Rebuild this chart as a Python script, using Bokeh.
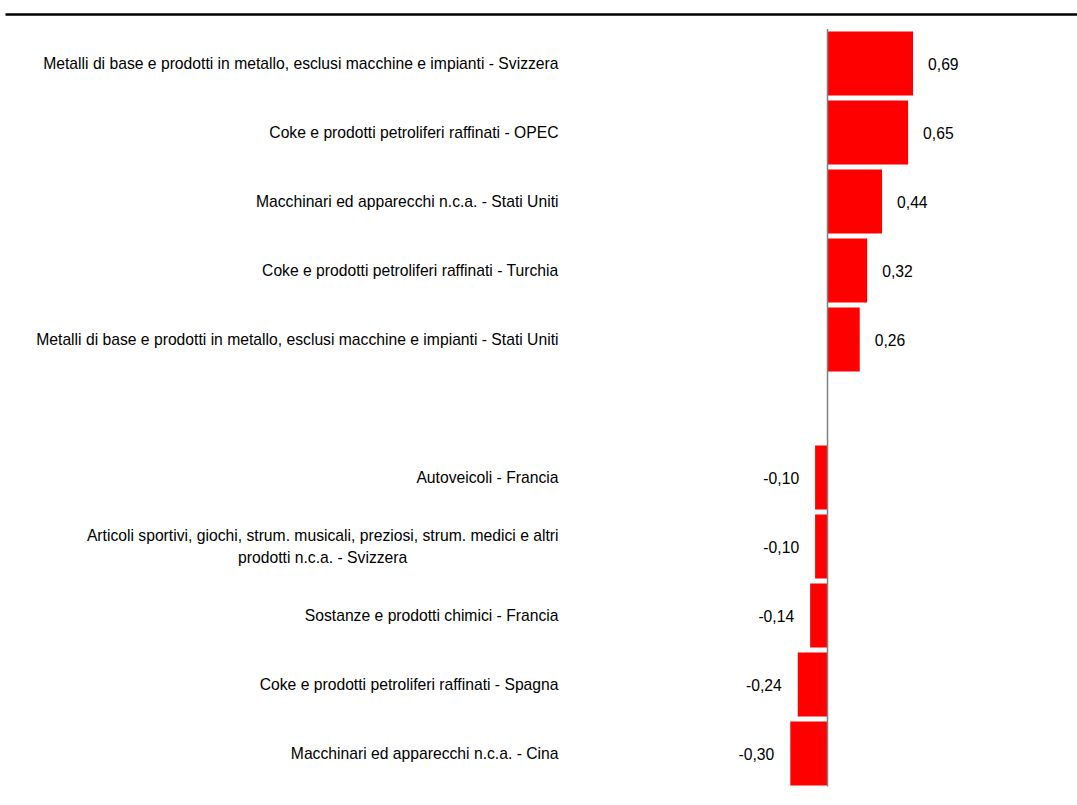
from bokeh.plotting import figure
from bokeh.models import ColumnDataSource, Range1d
from bokeh.embed import file_html
from bokeh.resources import INLINE
from bokeh.core.properties import value

pos_labels = [
    "Metalli di base e prodotti in metallo, esclusi macchine e impianti - Svizzera",
    "Coke e prodotti petroliferi raffinati - OPEC",
    "Macchinari ed apparecchi n.c.a. - Stati Uniti",
    "Coke e prodotti petroliferi raffinati - Turchia",
    "Metalli di base e prodotti in metallo, esclusi macchine e impianti - Stati Uniti",
]
pos_values = [0.69, 0.65, 0.44, 0.32, 0.26]
neg_labels = [
    "Autoveicoli - Francia",
    "Articoli sportivi, giochi, strum. musicali, preziosi, strum. medici e altri\nprodotti n.c.a. - Svizzera",
    "Sostanze e prodotti chimici - Francia",
    "Coke e prodotti petroliferi raffinati - Spagna",
    "Macchinari ed apparecchi n.c.a. - Cina",
]
neg_values = [-0.10, -0.10, -0.14, -0.24, -0.30]

FONT = "Liberation Sans"
FSIZE = "15.7px"

labels = pos_labels + neg_labels
values = pos_values + neg_values
# row positions: positives, then an empty gap row, then negatives
rows = list(range(len(pos_values))) + [len(pos_values) + 1 + i for i in range(len(neg_values))]
nrows = len(pos_values) + 1 + len(neg_values)

def fmt(v):
    return ("%.2f" % v).replace(".", ",")

W, H = 1077, 800
px_per_unit = 124.0
zero_px = 827.0
row_px = 69.0
first_center_px = 63.0

x_start = -zero_px / px_per_unit
x_end = (W - zero_px) / px_per_unit
y_top = -first_center_px / row_px
y_bottom = y_top + H / row_px

p = figure(width=W, height=H, output_backend="svg", toolbar_location=None,
           x_range=Range1d(x_start, x_end), y_range=Range1d(y_bottom, y_top),
           min_border=0, min_border_left=0, min_border_right=0,
           min_border_top=0, min_border_bottom=0)
p.axis.visible = False
p.grid.visible = False
p.outline_line_color = None
p.background_fill_color = "white"
p.border_fill_color = "white"

src = ColumnDataSource(dict(y=rows, v=values, lab=labels))
pos_src = ColumnDataSource(dict(
    y=rows[:len(pos_values)], v=pos_values, vt=[fmt(v) for v in pos_values]))
neg_src = ColumnDataSource(dict(
    y=rows[len(pos_values):], v=neg_values, vt=[fmt(v) for v in neg_values]))

p.hbar(y="y", left=0, right="v", height=0.93, source=src,
       fill_color="#ff0000", line_color=None)

# vertical zero axis line
p.segment(x0=[0], y0=[-0.5], x1=[0], y1=[nrows - 0.52],
          line_color="#808080", line_width=1.5)

# top rule
rule_y = y_top + 14 / row_px
p.segment(x0=[x_start + 5 / px_per_unit], y0=[rule_y], x1=[x_end], y1=[rule_y],
          line_color="black", line_width=2.5)

# category labels
p.text(x=0, y="y", text="lab", source=src, x_offset=-269,
       anchor="center_right", text_align="center", text_baseline="middle",
       text_font=value(FONT), text_font_size=FSIZE, text_color="#000000",
       text_line_height=1.25)

# value labels
p.text(x="v", y="y", text="vt", source=pos_src, x_offset=15,
       text_align="left", text_baseline="middle",
       text_font=value(FONT), text_font_size=FSIZE, text_color="#000000")
p.text(x="v", y="y", text="vt", source=neg_src, x_offset=-16,
       text_align="right", text_baseline="middle",
       text_font=value(FONT), text_font_size=FSIZE, text_color="#000000")

open("out.html", "w").write(file_html(p, INLINE))
